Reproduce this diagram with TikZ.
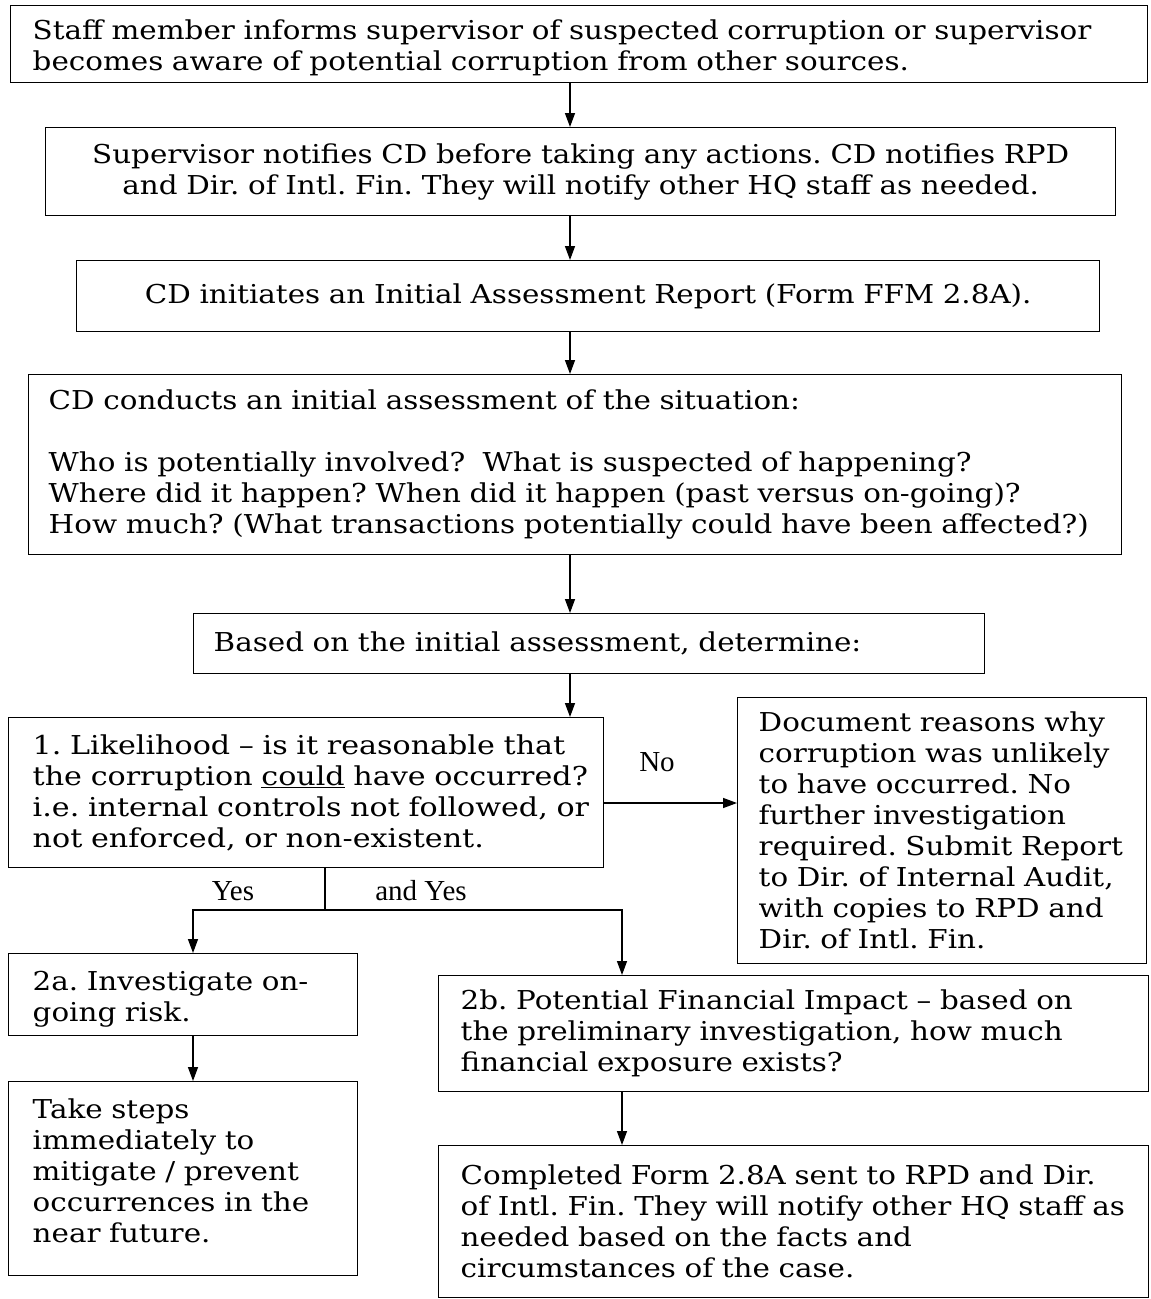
\documentclass[tikz,border=0pt]{standalone}
\usepackage{fontspec}
\setmainfont{DejaVu Serif}
\newfontfamily\widef[FakeStretch=1.13]{DejaVu Serif}
\newfontfamily\widerf[FakeStretch=1.16]{DejaVu Serif}
\newfontfamily\timesf{Liberation Serif}
\usetikzlibrary{arrows.meta}
\tikzset{
  box/.style={draw, line width=1.4pt, anchor=north west, inner ysep=0pt},
  wide/.style={font=\widef\fontsize{26}{31}\selectfont},
  wider/.style={font=\widerf\fontsize{26}{31}\selectfont},
  lbl/.style={font=\timesf\fontsize{29}{31}\selectfont, inner sep=0pt},
  arr/.style={line width=1.4pt, -{Triangle[length=14pt,width=10pt]}},
  ln/.style={line width=1.4pt}
}
\begin{document}
\frenchspacing
\begin{tikzpicture}[x=1pt,y=-1pt]
\useasboundingbox (0,0) rectangle (1151,1299);
\node[box, wide, align=left, inner xsep=22pt, text width=1093pt, minimum width=1137pt, minimum height=77pt] (b1) at (10,5)
 {\rule{0pt}{28pt}Staff member informs supervisor of suspected corruption or supervisor\\becomes aware of potential corruption from other sources.};
\node[box, wide, align=center, inner xsep=20pt, text width=1030pt, minimum width=1070pt, minimum height=88pt] (b2) at (45,127)
 {Supervisor notifies CD before taking any actions. CD notifies RPD\\and Dir. of Intl. Fin. They will notify other HQ staff as needed.};
\node[box, wide, align=center, inner xsep=20pt, text width=983pt, minimum width=1023pt, minimum height=71pt] (b3) at (76,260)
 {CD initiates an Initial Assessment Report (Form FFM 2.8A).};
\node[box, wide, align=left, inner xsep=20pt, text width=1053pt, minimum width=1093pt, minimum height=180pt] (b4) at (28,374)
 {CD conducts an initial assessment of the situation:\\[31pt]Who is potentially involved?\ \ What is suspected of happening?\\Where did it happen? When did it happen (past versus on-going)?\\How much? (What transactions potentially could have been affected?)};
\node[box, wide, align=left, inner xsep=20pt, text width=751pt, minimum width=791pt, minimum height=60pt] (b5) at (193,613)
 {Based on the initial assessment, determine:};
\node[box, wider, align=left, inner xsep=24pt, text width=547pt, minimum width=595pt, minimum height=150pt] (b6) at (8,717)
 {\mbox{1. Likelihood – is it reasonable that}\\\mbox{the corruption \underline{could} have occurred?}\\\mbox{i.e. internal controls not followed, or}\\\mbox{not enforced, or non-existent.}};
\node[box, wide, align=left, inner xsep=21pt, text width=367pt, minimum width=409pt, minimum height=266pt] (b7) at (737,697)
 {Document reasons why\\corruption was unlikely\\to have occurred. No\\further investigation\\required. Submit Report\\to Dir. of Internal Audit,\\with copies to RPD and\\Dir. of Intl. Fin.};
\node[box, wide, align=left, inner xsep=24pt, text width=301pt, minimum width=349pt, minimum height=82pt] (b2a) at (8,953)
 {\rule{0pt}{28pt}2a. Investigate on-\\going risk.};
\node[box, wide, align=left, inner xsep=24pt, text width=301pt, minimum width=349pt, minimum height=194pt] (b8) at (8,1081)
 {Take steps\\immediately to\\mitigate / prevent\\occurrences in the\\near future.\\[-14pt]\mbox{}};
\node[box, wide, align=left, inner xsep=22pt, text width=666pt, minimum width=710pt, minimum height=116pt] (b2b) at (438,975)
 {2b. Potential Financial Impact – based on\\the preliminary investigation, how much\\financial exposure exists?};
\node[box, wide, align=left, inner xsep=22pt, text width=666pt, minimum width=710pt, minimum height=152pt] (b9) at (438,1145)
 {Completed Form 2.8A sent to RPD and Dir.\\of Intl. Fin. They will notify other HQ staff as\\needed based on the facts and\\circumstances of the case.};
\coordinate (ax) at (570,0);
\coordinate (ny) at (0,803);
\coordinate (split) at (325,910);
\coordinate (ya) at (193,0);
\coordinate (yb) at (622,0);
\draw[arr] (b1.south -| ax) -- (b2.north -| ax);
\draw[arr] (b2.south -| ax) -- (b3.north -| ax);
\draw[arr] (b3.south -| ax) -- (b4.north -| ax);
\draw[arr] (b4.south -| ax) -- (b5.north -| ax);
\draw[arr] (b5.south -| ax) -- (b6.north -| ax);
\draw[arr] (b6.east |- ny) -- (b7.west |- ny);
\node[lbl] (no) at (657,762) {No};
\draw[ln] (b6.south -| split) -- (split);
\draw[arr] (split) -- (split -| ya) -- (b2a.north -| ya);
\draw[arr] (split) -- (split -| yb) -- (b2b.north -| yb);
\node[lbl] (yes) at (233,891) {Yes};
\node[lbl] (andyes) at (421,891) {and Yes};
\draw[arr] (b2a.south -| ya) -- (b8.north -| ya);
\draw[arr] (b2b.south -| yb) -- (b9.north -| yb);
\end{tikzpicture}
\end{document}
